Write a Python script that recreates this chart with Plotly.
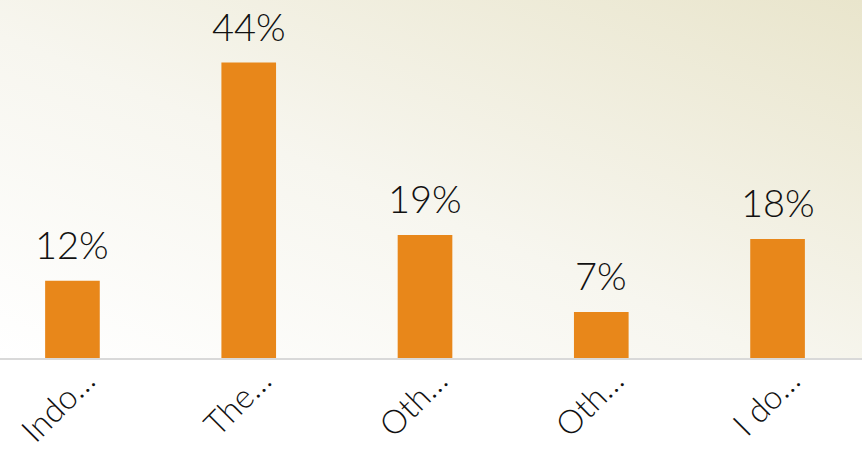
import base64
import plotly.graph_objects as go

categories = ["Indo\u2026", "The\u2026", "Oth\u2026", "Oth\u2026", "I do\u2026"]
values = [11.6, 44.4, 18.5, 6.9, 17.9]
labels = ["12%", "44%", "19%", "7%", "18%"]

BAR_COLOR = "#e8871a"
FONT = "Lato"

svg = (
    '<svg xmlns="http://www.w3.org/2000/svg" width="862" height="451" viewBox="0 0 862 451" preserveAspectRatio="none">'
    '<defs><linearGradient id="g" x1="0" y1="1" x2="1" y2="0">'
    '<stop offset="0" stop-color="#ffffff"/>'
    '<stop offset="0.45" stop-color="#f7f6ef"/>'
    '<stop offset="1" stop-color="#e9e5cc"/>'
    '</linearGradient></defs>'
    '<rect width="862" height="451" fill="url(#g)"/></svg>'
)
src = "data:image/svg+xml;base64," + base64.b64encode(svg.encode()).decode()

x_idx = list(range(len(categories)))

fig = go.Figure()
fig.add_trace(go.Bar(
    x=x_idx, y=values, width=0.31, marker=dict(color=BAR_COLOR, line=dict(width=0)),
    hoverinfo="skip",
))

for xi, v, lab in zip(x_idx, values, labels):
    fig.add_annotation(x=xi, y=v, text=lab, showarrow=False, yanchor="bottom",
                       yshift=12, font=dict(family=FONT, size=38, color="#111111", weight=300))

fig.update_layout(
    width=862, height=451,
    margin=dict(l=0, r=0, t=0, b=93),
    paper_bgcolor="rgba(0,0,0,0)",
    plot_bgcolor="rgba(0,0,0,0)",
    showlegend=False,
    images=[dict(source=src, xref="paper", yref="paper", x=0, y=1, sizex=1, sizey=1,
                 xanchor="left", yanchor="top", sizing="stretch", layer="below")],
    xaxis=dict(
        range=[-0.411, 4.479], tickmode="array", tickvals=x_idx, ticktext=categories,
        tickangle=-45, showgrid=False, zeroline=False, showline=True, automargin=False,
        linecolor="#d9d9d9", linewidth=2, ticks="", ticklabelshift=13, ticklabelstandoff=-12,
        tickfont=dict(family=FONT, size=33, color="#111111", weight=300),
    ),
    yaxis=dict(range=[0, 53.8], visible=False, showgrid=False, zeroline=False, automargin=False),
)

fig.write_html("out.html")
